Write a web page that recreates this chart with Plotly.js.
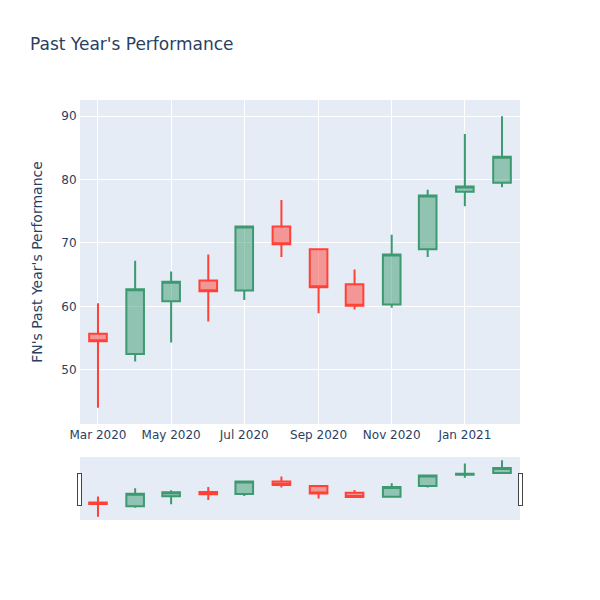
<!DOCTYPE html>
<html>
<head>
<meta charset="utf-8">
<script src="https://cdn.plot.ly/plotly-3.0.1.min.js"></script>
<style>html,body{margin:0;padding:0;}#chart{width:600px;height:600px;}</style>
</head>
<body>
<div id="chart"></div>
<script>
const dates = ["2020-03-01","2020-04-01","2020-05-01","2020-06-01","2020-07-01","2020-08-01","2020-09-01","2020-10-01","2020-11-01","2020-12-01","2021-01-01","2021-02-01"];
const openVals  = [55.7, 52.5, 60.8, 64.1, 62.5, 72.6, 69.0, 63.5, 60.3, 69.0, 78.1, 79.5];
const highVals  = [60.5, 67.2, 65.5, 68.2, 72.7, 76.8, 69.1, 65.8, 71.3, 78.4, 87.2, 90.0];
const lowVals   = [44.0, 51.3, 54.3, 57.6, 61.0, 67.8, 58.9, 59.5, 59.8, 67.8, 75.8, 78.8];
const closeVals = [54.5, 62.7, 63.9, 62.4, 72.6, 69.8, 63.0, 60.1, 68.2, 77.5, 78.9, 83.6];

const trace = {
  type: 'candlestick',
  x: dates,
  open: openVals,
  high: highVals,
  low: lowVals,
  close: closeVals
};

const fam = '"DejaVu Sans", verdana, arial, sans-serif';
const layout = {
  width: 600,
  height: 600,
  title: {text: "Past Year's Performance", x: 0.05, font: {size: 17, color: '#2a3f5f', family: fam}},
  font: {family: fam, color: '#2a3f5f', size: 12},
  paper_bgcolor: 'white',
  plot_bgcolor: '#E5ECF6',
  showlegend: false,
  margin: {l: 80, r: 80, t: 100, b: 80},
  xaxis: {
    gridcolor: 'white', linecolor: 'white', zerolinecolor: 'white',
    rangeslider: {visible: true}
  },
  yaxis: {
    title: {text: "FN's Past Year's Performance", font: {size: 14}},
    gridcolor: 'white', linecolor: 'white', zerolinecolor: 'white', zerolinewidth: 2
  }
};

Plotly.newPlot('chart', [trace], layout, {displayModeBar: false});
</script>
</body>
</html>
